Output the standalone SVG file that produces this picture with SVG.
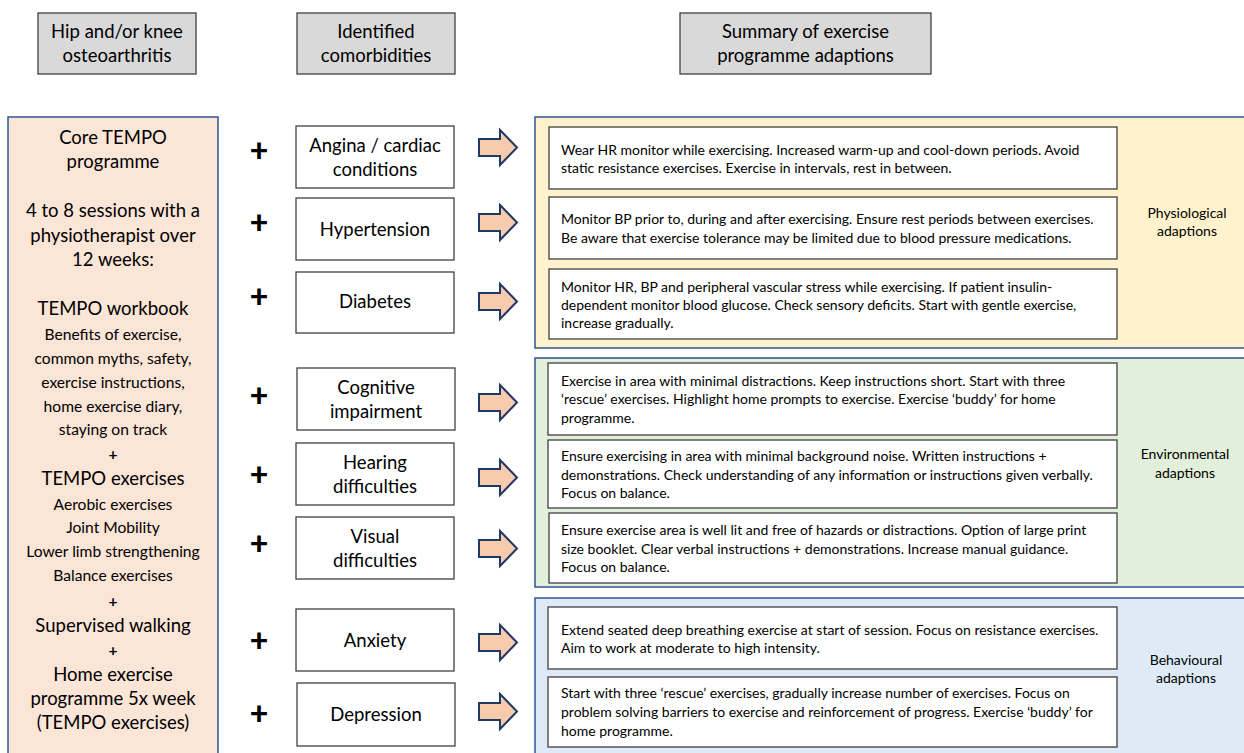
<svg xmlns="http://www.w3.org/2000/svg" width="1244" height="753" viewBox="0 0 1244 753">
<style>
text{font-family:Lato,"Open Sans","Liberation Sans",sans-serif;fill:#000}
.hdr{fill:#d9d9d9;stroke:#404040;stroke-width:1.3}
.big{font-size:18.5px;text-anchor:middle}
.mid{font-size:15.6px;text-anchor:middle}
.sm{font-size:14px}
.lab{font-size:14px;text-anchor:middle}
.cb{fill:#fff;stroke:#404040;stroke-width:1.3}
.ib{fill:#fff;stroke:#404040;stroke-width:1.3}
.plus{font-size:32px;font-weight:900;text-anchor:middle}
.arr{fill:#f8cbad;stroke:#1f3864;stroke-width:2;stroke-linejoin:miter}
.pnl{stroke:#2f5597;stroke-width:1.5}
</style>
<rect width="1244" height="753" fill="#fff"/>
<g id="header-oa">
<rect class="hdr" x="38" y="13" width="158" height="61"/>
<text class="big" x="117" y="38">Hip and/or knee</text>
<text class="big" x="117" y="62">osteoarthritis</text>
</g>
<g id="header-comorb">
<rect class="hdr" x="297" y="13" width="158" height="61"/>
<text class="big" x="376" y="38">Identified</text>
<text class="big" x="376" y="62">comorbidities</text>
</g>
<g id="header-summary">
<rect class="hdr" x="680" y="13" width="251" height="61"/>
<text class="big" x="805.5" y="38">Summary of exercise</text>
<text class="big" x="805.5" y="62">programme adaptions</text>
</g>
<g id="core-programme">
<rect class="pnl" x="8" y="117" width="210" height="645" fill="#fbe5d6"/>
<text class="big" x="113" y="144">Core TEMPO</text>
<text class="big" x="113" y="168">programme</text>
<text class="big" x="113" y="217">4 to 8 sessions with a</text>
<text class="big" x="113" y="242">physiotherapist over</text>
<text class="big" x="113" y="266">12 weeks:</text>
<text class="big" x="113" y="315">TEMPO workbook</text>
<text class="mid" x="113" y="340">Benefits of exercise,</text>
<text class="mid" x="113" y="364">common myths, safety,</text>
<text class="mid" x="113" y="388">exercise instructions,</text>
<text class="mid" x="113" y="412">home exercise diary,</text>
<text class="mid" x="113" y="435">staying on track</text>
<text class="mid" x="113" y="460" font-weight="bold">+</text>
<text class="big" x="113" y="485">TEMPO exercises</text>
<text class="mid" x="113" y="510">Aerobic exercises</text>
<text class="mid" x="113" y="533">Joint Mobility</text>
<text class="mid" x="113" y="557">Lower limb strengthening</text>
<text class="mid" x="113" y="581">Balance exercises</text>
<text class="mid" x="113" y="607" font-weight="bold">+</text>
<text class="big" x="113" y="632">Supervised walking</text>
<text class="mid" x="113" y="656" font-weight="bold">+</text>
<text class="big" x="113" y="681">Home exercise</text>
<text class="big" x="113" y="705">programme 5x week</text>
<text class="big" x="113" y="729">(TEMPO exercises)</text>
</g>
<g id="pluses">
<text class="plus" x="259" y="162">+</text>
<text class="plus" x="259" y="234">+</text>
<text class="plus" x="259" y="308">+</text>
<text class="plus" x="259" y="407">+</text>
<text class="plus" x="259" y="486">+</text>
<text class="plus" x="259" y="555">+</text>
<text class="plus" x="259" y="652">+</text>
<text class="plus" x="259" y="725">+</text>
</g>
<g id="angina"><rect class="cb" x="296" y="126" width="158" height="62"/><text class="big" x="375" y="152">Angina / cardiac</text><text class="big" x="375" y="176">conditions</text></g>
<g id="hypertension"><rect class="cb" x="296" y="198" width="158" height="62"/><text class="big" x="375" y="236">Hypertension</text></g>
<g id="diabetes"><rect class="cb" x="296" y="272" width="158" height="61"/><text class="big" x="375" y="308">Diabetes</text></g>
<g id="cognitive"><rect class="cb" x="297" y="368" width="158" height="62"/><text class="big" x="376" y="394">Cognitive</text><text class="big" x="376" y="418">impairment</text></g>
<g id="hearing"><rect class="cb" x="296" y="443" width="158" height="62"/><text class="big" x="375" y="469">Hearing</text><text class="big" x="375" y="493">difficulties</text></g>
<g id="visual"><rect class="cb" x="296" y="517" width="158" height="62"/><text class="big" x="375" y="543">Visual</text><text class="big" x="375" y="567">difficulties</text></g>
<g id="anxiety"><rect class="cb" x="296" y="609" width="158" height="62"/><text class="big" x="375" y="647">Anxiety</text></g>
<g id="depression"><rect class="cb" x="297" y="683" width="158" height="63"/><text class="big" x="376" y="721">Depression</text></g>
<g id="physiological">
<rect class="pnl" x="535" y="117" width="720" height="231" fill="#fff2cc"/>
<text class="lab" x="1187" y="218">Physiological</text>
<text class="lab" x="1187" y="236">adaptions</text>
</g>
<g id="environmental">
<rect class="pnl" x="535" y="358" width="720" height="229" fill="#e2efda"/>
<text class="lab" x="1185" y="459">Environmental</text>
<text class="lab" x="1185" y="478">adaptions</text>
</g>
<g id="behavioural">
<rect class="pnl" x="535" y="598" width="720" height="170" fill="#deebf7"/>
<text class="lab" x="1186" y="665">Behavioural</text>
<text class="lab" x="1186" y="683">adaptions</text>
</g>
<g id="adapt-angina"><rect class="ib" x="549" y="127" width="568" height="62"/>
<text class="sm" x="561" y="155">Wear HR monitor while exercising. Increased warm-up and cool-down periods. Avoid</text>
<text class="sm" x="561" y="173">static resistance exercises. Exercise in intervals, rest in between.</text></g>
<g id="adapt-hypertension"><rect class="ib" x="549" y="197" width="568" height="62"/>
<text class="sm" x="561" y="224">Monitor BP prior to, during and after exercising. Ensure rest periods between exercises.</text>
<text class="sm" x="561" y="243">Be aware that exercise tolerance may be limited due to blood pressure medications.</text></g>
<g id="adapt-diabetes"><rect class="ib" x="549" y="269" width="568" height="70"/>
<text class="sm" x="561" y="292">Monitor HR, BP and peripheral vascular stress while exercising. If patient insulin-</text>
<text class="sm" x="561" y="310">dependent monitor blood glucose. Check sensory deficits. Start with gentle exercise,</text>
<text class="sm" x="561" y="328">increase gradually.</text></g>
<g id="adapt-cognitive"><rect class="ib" x="548" y="363" width="569" height="72"/>
<text class="sm" x="561" y="386">Exercise in area with minimal distractions. Keep instructions short. Start with three</text>
<text class="sm" x="561" y="404">‘rescue’ exercises. Highlight home prompts to exercise. Exercise ‘buddy’ for home</text>
<text class="sm" x="561" y="423">programme.</text></g>
<g id="adapt-hearing"><rect class="ib" x="548" y="440" width="569" height="68"/>
<text class="sm" x="561" y="461">Ensure exercising in area with minimal background noise. Written instructions +</text>
<text class="sm" x="561" y="480">demonstrations. Check understanding of any information or instructions given verbally.</text>
<text class="sm" x="561" y="498">Focus on balance.</text></g>
<g id="adapt-visual"><rect class="ib" x="549" y="513" width="568" height="70"/>
<text class="sm" x="561" y="535">Ensure exercise area is well lit and free of hazards or distractions. Option of large print</text>
<text class="sm" x="561" y="554">size booklet. Clear verbal instructions + demonstrations. Increase manual guidance.</text>
<text class="sm" x="561" y="572">Focus on balance.</text></g>
<g id="adapt-anxiety"><rect class="ib" x="548" y="607" width="569" height="62"/>
<text class="sm" x="561" y="635">Extend seated deep breathing exercise at start of session. Focus on resistance exercises.</text>
<text class="sm" x="561" y="653">Aim to work at moderate to high intensity.</text></g>
<g id="adapt-depression"><rect class="ib" x="548" y="677" width="569" height="70"/>
<text class="sm" x="561" y="698">Start with three ‘rescue’ exercises, gradually increase number of exercises. Focus on</text>
<text class="sm" x="561" y="717">problem solving barriers to exercise and reinforcement of progress. Exercise ‘buddy’ for</text>
<text class="sm" x="561" y="736">home programme.</text></g>
<g id="connectors">
<path class="arr" d="M479,139 H500 V130 L517,147.5 L500,165 V156 H479 Z"/>
<path class="arr" d="M479,214 H500 V205 L517,222.5 L500,240 V231 H479 Z"/>
<path class="arr" d="M479,293 H500 V284 L517,301.5 L500,319 V310 H479 Z"/>
<path class="arr" d="M479,394 H500 V385 L517,402.5 L500,420 V411 H479 Z"/>
<path class="arr" d="M479,469 H500 V460 L517,477.5 L500,495 V486 H479 Z"/>
<path class="arr" d="M479,540 H500 V531 L517,548.5 L500,566 V557 H479 Z"/>
<path class="arr" d="M479,634 H500 V625 L517,642.5 L500,660 V651 H479 Z"/>
<path class="arr" d="M479,703 H500 V694 L517,711.5 L500,729 V720 H479 Z"/>
</g>
</svg>
